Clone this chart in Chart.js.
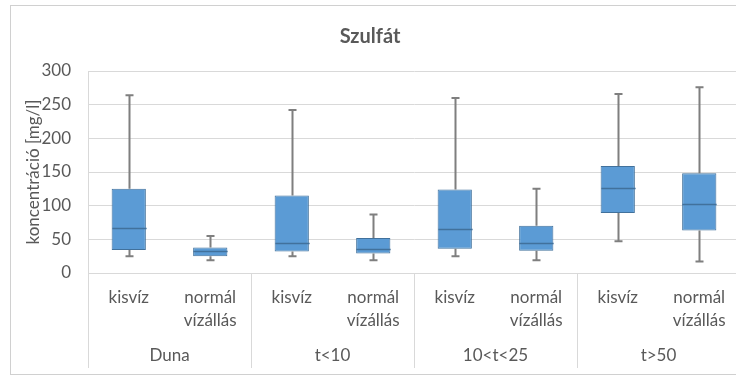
<!DOCTYPE html>
<html>
<head>
<meta charset="utf-8">
<script src="https://cdn.jsdelivr.net/npm/chart.js@4.4.0/dist/chart.umd.min.js"></script>
<style>
  html, body { margin: 0; padding: 0; background: #fff; overflow: hidden; }
  #wrap { position: absolute; left: 0; top: 0; width: 740px; height: 376px; }
</style>
</head>
<body>
<div id="wrap"><canvas id="boxChart" width="740" height="376"></canvas></div>
<script>
// categories
var categories = [
    'kisvíz', ['normál', 'vízállás'],
    'kisvíz', ['normál', 'vízállás'],
    'kisvíz', ['normál', 'vízállás'],
    'kisvíz', ['normál', 'vízállás']
];
var groups = ['Duna', 't<10', '10<t<25', 't>50'];

// box plot values [mg/l]
var minValues    = [25, 19, 25, 19, 25, 19, 47, 17];
var q1Values     = [34, 25, 32, 29, 36, 33, 89, 63];
var medianValues = [67, 32, 44, 36, 66, 44, 126, 102];
var q3Values     = [125, 38, 115, 52, 124, 70, 159, 148];
var maxValues    = [264, 55, 242, 87, 260, 125, 266, 276];

var yTicks = [0, 50, 100, 150, 200, 250, 300];

var textColor = '#595959';
var gridColor = '#d9d9d9';
var fontFamily = 'Lato, "Open Sans", sans-serif';

var boxes = [];
for (var i = 0; i < categories.length; i++) {
    boxes.push([q1Values[i], q3Values[i]]);
}

// whiskers, medians, group separators and outer frame
var boxPlotExtras = {
    id: 'boxPlotExtras',
    afterDatasetsDraw: function(chart) {
        var ctx = chart.ctx;
        var x = chart.scales.x;
        var y = chart.scales.y;
        var meta = chart.getDatasetMeta(0);
        ctx.save();
        for (var i = 0; i < categories.length; i++) {
            var bar = meta.data[i];
            var cx = Math.round(x.getPixelForValue(i)) + 0.5;
            var half = bar.width / 2;
            var yMin = y.getPixelForValue(minValues[i]);
            var yMax = y.getPixelForValue(maxValues[i]);
            var yQ1 = y.getPixelForValue(q1Values[i]);
            var yQ3 = y.getPixelForValue(q3Values[i]);
            var yMed = Math.round(y.getPixelForValue(medianValues[i])) + 0.5;

            ctx.strokeStyle = '#7f7f7f';
            ctx.lineWidth = 2;
            ctx.beginPath();
            ctx.moveTo(cx, yMax);
            ctx.lineTo(cx, yQ3);
            ctx.moveTo(cx, yQ1);
            ctx.lineTo(cx, yMin);
            ctx.stroke();
            ctx.beginPath();
            ctx.moveTo(cx - 4, yMax);
            ctx.lineTo(cx + 4, yMax);
            ctx.moveTo(cx - 4, yMin);
            ctx.lineTo(cx + 4, yMin);
            ctx.stroke();

            ctx.strokeStyle = '#41719c';
            ctx.lineWidth = 1.5;
            ctx.beginPath();
            ctx.moveTo(cx - half, yMed);
            ctx.lineTo(cx + half, yMed);
            ctx.stroke();
        }
        ctx.restore();
    },
    afterDraw: function(chart) {
        var ctx = chart.ctx;
        var x = chart.scales.x;
        var area = chart.chartArea;
        ctx.save();
        ctx.strokeStyle = gridColor;
        ctx.lineWidth = 1;
        ctx.beginPath();
        for (var g = 0; g <= groups.length; g++) {
            var px;
            if (g === 0) px = x.left;
            else if (g === groups.length) px = x.right;
            else px = (x.getPixelForValue(2 * g - 1) + x.getPixelForValue(2 * g)) / 2;
            px = Math.round(px) + 0.5;
            ctx.moveTo(px, area.bottom);
            ctx.lineTo(px, 368);
        }
        ctx.stroke();
        ctx.strokeStyle = '#d0d0d0';
        ctx.strokeRect(10.5, 5.5, 740, 369);
        ctx.restore();
    }
};

var c = document.getElementById('boxChart');
var chart = new Chart(c, {
    type: 'bar',
    data: {
        labels: categories,
        datasets: [{
            data: boxes,
            backgroundColor: '#5b9bd5',
            borderColor: '#41719c',
            borderWidth: 1,
            borderSkipped: false,
            barPercentage: 0.42,
            categoryPercentage: 1
        }]
    },
    options: {
        responsive: false,
        animation: false,
        devicePixelRatio: 1,
        layout: { padding: { top: 6, left: 0, right: 0, bottom: 10 } },
        plugins: {
            legend: { display: false },
            tooltip: { enabled: false },
            title: {
                display: true,
                text: 'Szulfát',
                color: textColor,
                font: { family: fontFamily, size: 20, weight: 'bold' },
                padding: { top: 19, bottom: 22 }
            }
        },
        scales: {
            x: {
                position: 'bottom',
                grid: { display: false, drawTicks: false },
                border: { display: false },
                ticks: {
                    color: textColor,
                    font: { family: fontFamily, size: 17, lineHeight: 1.35 },
                    padding: 13,
                    maxRotation: 0,
                    autoSkip: false
                },
                afterFit: function(scale) { scale.height = 62; }
            },
            x2: {
                type: 'category',
                position: 'bottom',
                labels: groups,
                offset: true,
                grid: { display: false, drawTicks: false },
                border: { display: false },
                ticks: {
                    color: textColor,
                    font: { family: fontFamily, size: 17 },
                    padding: 10,
                    maxRotation: 0
                },
                afterFit: function(scale) { scale.height = 31; }
            },
            y: {
                min: 0,
                max: 300,
                afterBuildTicks: function(scale) {
                    scale.ticks = yTicks.map(function(v) { return { value: v }; });
                },
                grid: { color: gridColor, drawTicks: false },
                border: { display: true, color: gridColor },
                ticks: {
                    color: textColor,
                    font: { family: fontFamily, size: 17 },
                    padding: 17
                },
                title: {
                    display: true,
                    text: 'koncentráció [mg/l]',
                    color: textColor,
                    font: { family: fontFamily, size: 17 },
                    padding: { top: 23, bottom: 0 }
                },
                afterFit: function(scale) { scale.width = 88; }
            }
        }
    },
    plugins: [boxPlotExtras]
});
</script>
</body>
</html>
